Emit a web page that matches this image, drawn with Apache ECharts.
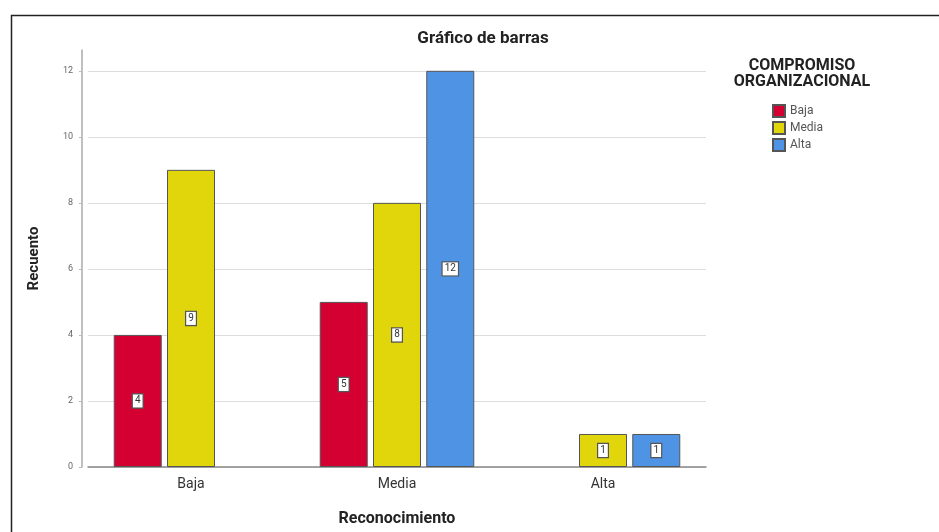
<!DOCTYPE html>
<html>
<head>
<meta charset="utf-8">
<script src="https://cdn.jsdelivr.net/npm/echarts@6/dist/echarts.min.js"></script>
<style>
  html, body { margin: 0; padding: 0; background: #fff; }
  #main { width: 939px; height: 532px; }
</style>
</head>
<body>
<div id="main"></div>
<script>
// datos
var categorias = ['Baja', 'Media', 'Alta'];
var serieBaja = [4, 5, 0];
var serieMedia = [9, 8, 1];
var serieAlta = [0, 12, 1];
var ticksY = [0, 2, 4, 6, 8, 10, 12];

var colores = ['#d50032', '#e1d60c', '#4f94e4'];

var myChart = echarts.init(document.getElementById('main'));

function serie(nombre, valores, color) {
  return {
    name: nombre,
    type: 'bar',
    barWidth: 48,
    barGap: '11%',
    data: valores.map(function (v) { return v === 0 ? '-' : v; }),
    itemStyle: { color: color, borderColor: '#555', borderWidth: 1 },
    label: {
      show: true,
      position: 'inside',
      color: '#333',
      fontSize: 10,
      fontFamily: 'Roboto',
      backgroundColor: '#fff',
      borderColor: '#555',
      borderWidth: 1.2,
      padding: [2, 2, 1, 2]
    }
  };
}

myChart.setOption({
  backgroundColor: '#fff',
  animation: false,
  title: {
    text: 'Gráfico de barras',
    left: 478,
    top: 25,
    textAlign: 'center',
    textStyle: { fontSize: 17, fontWeight: 'bold', color: '#222', fontFamily: 'Roboto' }
  },
  legend: {
    orient: 'vertical',
    left: 767,
    top: 99,
    itemWidth: 12,
    itemHeight: 12,
    itemGap: 3,
    icon: 'rect',
    textStyle: { fontSize: 12, lineHeight: 12, color: '#555', fontFamily: 'Roboto' },
    data: ['Baja', 'Media', 'Alta']
  },
  graphic: [
    {
      type: 'rect',
      left: 9, top: 13,
      shape: { width: 945, height: 540 },
      style: { fill: 'none', stroke: '#222', lineWidth: 1.5 },
      silent: true
    },
    {
      type: 'text',
      x: 802, y: 58,
      style: {
        text: 'COMPROMISO\nORGANIZACIONAL',
        align: 'center',
        verticalAlign: 'top',
        font: 'bold 16px Roboto',
        fill: '#222',
        lineHeight: 16
      }
    }
  ],
  grid: { left: 88, right: 233, top: 50, bottom: 61 },
  xAxis: {
    type: 'category',
    data: categorias,
    name: 'Reconocimiento',
    nameLocation: 'middle',
    nameGap: 44,
    nameTextStyle: { fontSize: 16, fontWeight: 'bold', color: '#222', fontFamily: 'Roboto' },
    axisLine: { lineStyle: { color: '#888', width: 1.5 } },
    axisTick: { show: false },
    axisLabel: { fontSize: 14, color: '#333', margin: 10, fontFamily: 'Roboto' }
  },
  yAxis: {
    type: 'value',
    min: 0,
    max: 12.63,
    interval: 2,
    offset: 6,
    name: 'Recuento',
    nameLocation: 'middle',
    nameGap: 40,
    nameTextStyle: { fontSize: 15, fontWeight: 'bold', color: '#222', fontFamily: 'Roboto' },
    axisLine: { show: true, lineStyle: { color: '#aaa', width: 1.5 } },
    axisTick: { show: true, length: 3, lineStyle: { color: '#bbb' } },
    axisLabel: {
      fontSize: 9, color: '#666', margin: 9, fontFamily: 'Roboto',
      showMaxLabel: false,
      formatter: function (v) { return ticksY.indexOf(v) >= 0 ? v : ''; }
    },
    splitLine: { show: true, showMaxLine: false, lineStyle: { color: '#ddd', width: 1.2 } }
  },
  series: [
    serie('Baja', serieBaja, colores[0]),
    serie('Media', serieMedia, colores[1]),
    serie('Alta', serieAlta, colores[2])
  ]
});
</script>
</body>
</html>
